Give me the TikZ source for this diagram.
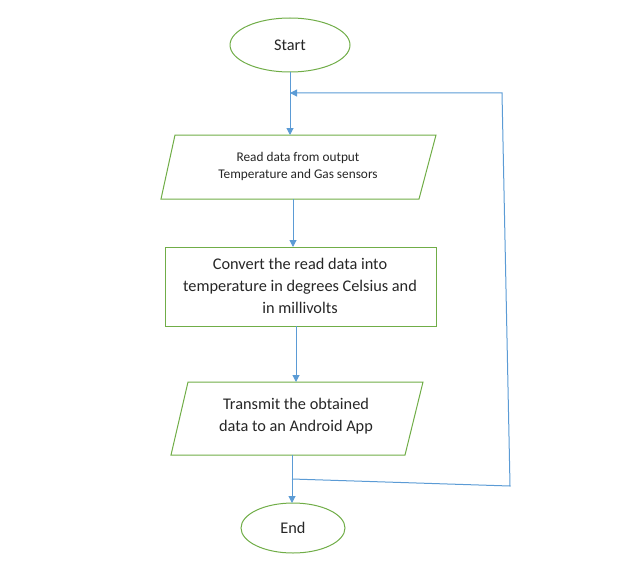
\documentclass[tikz,border=0pt]{standalone}
\usepackage{fontspec}
\setmainfont{Carlito}
\usetikzlibrary{arrows.meta,shapes.geometric}
\definecolor{boxgreen}{HTML}{70AD47}
\definecolor{lineblue}{HTML}{5B9BD5}
\definecolor{txt}{HTML}{262626}
\tikzset{
  term/.style={ellipse,draw=boxgreen,line width=1pt,fill=white,text=txt,font=\fontsize{16.3}{22}\selectfont},
  procbox/.style={draw=boxgreen,line width=1pt,text=txt},
  io/.style={draw=boxgreen,line width=1pt},
  lbl/.style={text=txt,align=center},
  conn/.style={draw=lineblue,line width=1pt,-{Triangle[length=7pt,width=7pt]}},
  plainconn/.style={draw=lineblue,line width=1pt}
}
\begin{document}
\begin{tikzpicture}[x=1pt,y=-1pt]
\useasboundingbox (0,0) rectangle (617,575);
% Start
\node[term,minimum width=120pt,minimum height=54pt,inner sep=0pt] (start) at (290,45) {Start};
% Read parallelogram
\draw[io] (175,135) -- (436,135) -- (419,199) -- (161,199) -- cycle;
\coordinate (p1top) at (290,135);
\coordinate (p1bot) at (293,199);
\node[lbl,font=\fontsize{13.3}{17}\selectfont] (read) at (298,166) {Read data from output\\Temperature and Gas sensors};
% Convert rectangle
\node[procbox,minimum width=271pt,minimum height=79pt,inner sep=0pt] (conv) at (300.5,286.5) {};
\node[lbl,font=\fontsize{16.3}{22}\selectfont] (convtxt) at (300,286) {Convert the read data into\\temperature in degrees Celsius and\\in millivolts};
% Transmit parallelogram
\draw[io] (188,382) -- (423,382) -- (405,455) -- (171,455) -- cycle;
\coordinate (p2top) at (296,382);
\coordinate (p2bot) at (292,455);
\node[lbl,font=\fontsize{16.3}{22}\selectfont] (trans) at (296,416) {Transmit the obtained\\data to an Android App};
% End
\node[term,minimum width=104pt,minimum height=50pt,inner sep=0pt] (end) at (293,528) {End};
% connectors
\coordinate (s1) at (290,72);
\draw[conn] (s1) -- (p1top);
\coordinate (c1top) at (293,247);
\draw[conn] (p1bot) -- (c1top);
\coordinate (c1bot) at (296,326);
\draw[conn] (c1bot) -- (p2top);
\coordinate (e1) at (292,503);
\draw[conn] (p2bot) -- (e1);
% feedback loop
\coordinate (fb0) at (292,479);
\coordinate (fb1) at (510,486);
\coordinate (fb2) at (502,93);
\coordinate (fb3) at (290,93);
\draw[conn] (fb0) -- (fb1) -- (fb2) -- (fb3);
\end{tikzpicture}
\end{document}
